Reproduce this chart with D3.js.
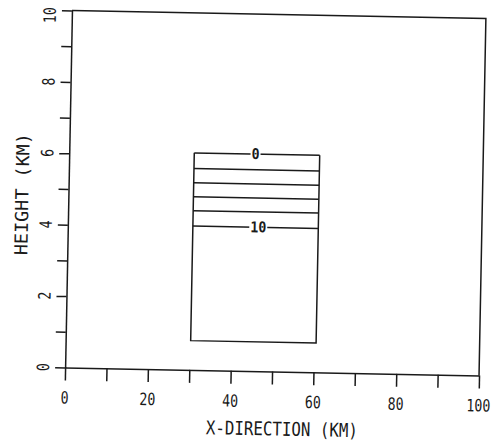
<!DOCTYPE html>
<html>
<head>
<meta charset="utf-8">
<script src="https://cdn.jsdelivr.net/npm/d3@7"></script>
<style>
  body { margin: 0; background: #fff; }
  text { font-family: "DejaVu Sans Mono", "Liberation Mono", monospace; fill: #1a1a1a; }
</style>
</head>
<body>
<div id="main"></div>
<script>
// valores
const xTickValues = [0, 10, 20, 30, 40, 50, 60, 70, 80, 90, 100];
const xTickLabels = [0, 20, 40, 60, 80, 100];
const yTickValues = [0, 1, 2, 3, 4, 5, 6, 7, 8, 9, 10];
const yTickLabels = [0, 2, 4, 6, 8, 10];

// contornos (nivel -> altura em km)
const contourLevels = [0, 2, 4, 6, 8, 10];
const contourHeights = [6.08, 5.64, 5.24, 4.85, 4.46, 4.03];
const contourLabeled = [0, 10];
const contourLabelX = [45, 46];

const cloudLeft = 30.2;
const cloudRight = 60.5;
const cloudBase = 0.82;

const svgWidth = 496, svgHeight = 442;
const mLeft = 68.5, mRight = 482.5, mTop = 14.5, mBottom = 371.5;
const ink = '#1a1a1a';

const svg = d3.select('#main')
    .append('svg')
    .attr('width', svgWidth)
    .attr('height', svgHeight);

// o scan original esta levemente girado
const g = svg.append('g')
    .attr('transform', 'rotate(1.1, 275.5, 193)');

const xScale = d3.scaleLinear().domain([0, 100]).range([mLeft, mRight]);
const yScale = d3.scaleLinear().domain([0, 10]).range([mBottom, mTop]);

// eixos
const xAxis = d3.axisBottom(xScale).tickValues(xTickValues).tickSize(13).tickSizeOuter(0).tickFormat('');
const yAxis = d3.axisLeft(yScale).tickValues(yTickValues).tickSize(10).tickSizeOuter(0).tickFormat('');

g.append('g')
    .attr('transform', `translate(0,${mBottom})`)
    .call(xAxis);
g.append('g')
    .attr('transform', `translate(${mLeft},0)`)
    .call(yAxis);

g.selectAll('.domain, .tick line')
    .attr('stroke', ink)
    .attr('stroke-width', 1.5);

// moldura de cima e da direita
g.append('path')
    .attr('fill', 'none')
    .attr('stroke', ink)
    .attr('stroke-width', 1.5)
    .attr('d', d3.line()([[xScale(0), yScale(10)], [xScale(100), yScale(10)], [xScale(100), yScale(0)]]));

// rotulos dos ticks
g.selectAll('text.x-tick')
    .data(xTickLabels)
    .enter()
    .append('text')
    .attr('class', 'x-tick')
    .attr('x', d => xScale(d))
    .attr('y', mBottom + 36)
    .attr('text-anchor', 'middle')
    .attr('font-size', 17)
    .attr('textLength', d => String(d).length * 8)
    .attr('lengthAdjust', 'spacingAndGlyphs')
    .text(d => d);

// o "10" de cima fica um pouco abaixo do tick, como no original
g.selectAll('text.y-tick')
    .data(yTickLabels)
    .enter()
    .append('text')
    .attr('class', 'y-tick')
    .attr('transform', d => `translate(${mLeft - 16},${Math.max(yScale(d), mTop + 5)}) rotate(-90)`)
    .attr('text-anchor', 'middle')
    .attr('font-size', 17)
    .attr('textLength', d => String(d).length * 8)
    .attr('lengthAdjust', 'spacingAndGlyphs')
    .text(d => d);

// titulos
g.append('text')
    .attr('x', (mLeft + mRight) / 2 + 11)
    .attr('y', mBottom + 64)
    .attr('text-anchor', 'middle')
    .attr('font-size', 19)
    .attr('textLength', 152)
    .attr('lengthAdjust', 'spacingAndGlyphs')
    .text('X-DIRECTION (KM)');

g.append('text')
    .attr('transform', `translate(${mLeft - 40},${yScale(5) + 6}) rotate(-90)`)
    .attr('text-anchor', 'middle')
    .attr('font-size', 18)
    .attr('textLength', 122)
    .attr('lengthAdjust', 'spacingAndGlyphs')
    .text('HEIGHT (KM)');

// caixa da nuvem e linhas de contorno
const plot = g.append('g')
    .attr('fill', 'none')
    .attr('stroke', ink)
    .attr('stroke-width', 1.5);

plot.append('path')
    .attr('d', d3.line()([
        [xScale(cloudLeft), yScale(contourHeights[0])],
        [xScale(cloudLeft), yScale(cloudBase)],
        [xScale(cloudRight), yScale(cloudBase)],
        [xScale(cloudRight), yScale(contourHeights[0])]
    ]));

plot.selectAll('line.contour')
    .data(contourHeights)
    .enter()
    .append('line')
    .attr('class', 'contour')
    .attr('x1', xScale(cloudLeft))
    .attr('x2', xScale(cloudRight))
    .attr('y1', d => yScale(d))
    .attr('y2', d => yScale(d));

// rotulos dos contornos
contourLabeled.forEach((lev, i) => {
    const h = contourHeights[contourLevels.indexOf(lev)];
    const cx = xScale(contourLabelX[i]);
    const cy = yScale(h);
    const w = String(lev).length * 8 + 2;
    g.append('rect')
        .attr('x', cx - w / 2)
        .attr('y', cy - 3)
        .attr('width', w)
        .attr('height', 6)
        .attr('fill', '#fff');
    g.append('text')
        .attr('x', cx)
        .attr('y', cy + 5)
        .attr('text-anchor', 'middle')
        .attr('font-size', 15)
        .attr('font-weight', 'bold')
        .attr('textLength', String(lev).length * 8)
        .attr('lengthAdjust', 'spacingAndGlyphs')
        .text(lev);
});
</script>
</body>
</html>
